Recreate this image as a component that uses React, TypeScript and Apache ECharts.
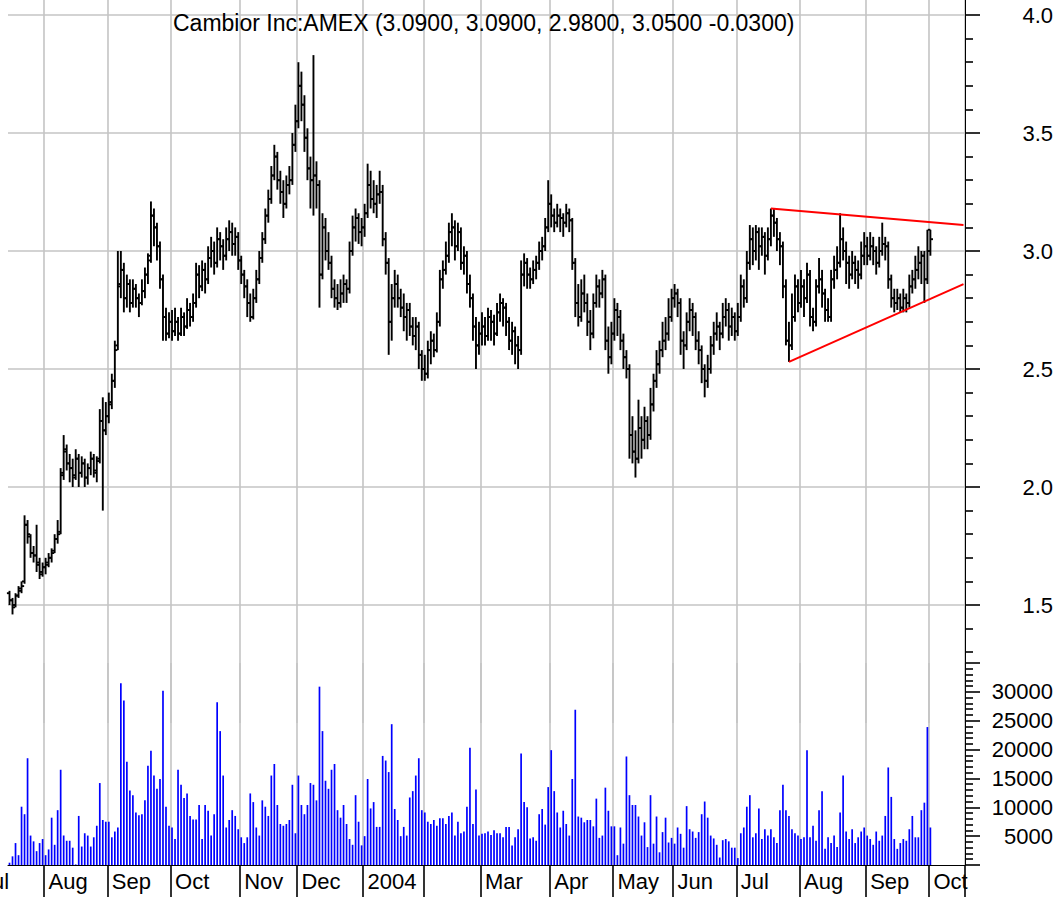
import React, { useEffect, useRef } from 'react';
import * as echarts from 'echarts';

const FONT = '"Liberation Sans", Arial, Helvetica, sans-serif';
const TITLE = 'Cambior Inc:AMEX (3.0900, 3.0900, 2.9800, 3.0500 -0.0300)';
const MONTHS = ['Jan', 'Feb', 'Mar', 'Apr', 'May', 'Jun', 'Jul', 'Aug', 'Sep', 'Oct', 'Nov', 'Dec'];
const FIRST_DAY = [2003, 6, 16];
const HOLIDAYS = ['2003-09-01', '2003-11-27', '2003-12-25', '2004-01-01', '2004-01-19', '2004-02-16',
  '2004-04-09', '2004-05-31', '2004-06-11', '2004-07-05', '2004-09-06'];
const AXIS_SLOTS = 318;
const PRICE_TICKS = ['1.5', '2.0', '2.5', '3.0', '3.5', '4.0'];
const VOLUME_TICKS = [5000, 10000, 15000, 20000, 25000, 30000];

const opens = [
  1.55,1.52,1.50,1.54,1.57,1.60,1.84,1.79,1.72,1.71,1.67,1.63,
  1.66,1.67,1.70,1.73,1.78,1.81,2.06,2.16,2.10,2.08,2.04,2.12,2.06,2.10,2.04,2.08,2.12,2.06,2.12,2.28,2.24,
  2.30,2.36,2.45,2.60,2.86,2.92,2.80,2.86,2.78,2.84,2.80,2.78,2.83,2.90,2.98,3.15,3.10,3.02,2.88,2.72,2.65,
  2.70,2.66,2.70,2.65,2.72,2.68,2.75,2.72,2.78,2.90,2.85,2.92,2.88,2.97,3.00,2.95,3.05,3.02,2.98,3.05,3.08,3.03,3.06,
  2.96,2.90,2.85,2.78,2.72,2.80,2.88,2.97,3.05,3.15,3.22,3.32,3.40,3.30,3.25,3.20,3.28,3.30,3.45,
  3.55,3.70,3.62,3.48,3.35,3.30,3.32,3.28,2.90,3.10,3.00,2.95,2.84,2.80,2.78,2.82,2.86,2.84,3.00,3.10,3.14,3.08,
  3.10,3.16,3.28,3.22,3.20,3.24,3.25,3.05,2.95,2.70,2.80,2.86,2.80,2.76,2.72,2.75,2.68,2.64,2.68,2.56,
  2.50,2.48,2.58,2.62,2.58,2.70,2.88,2.92,2.98,3.08,3.10,3.02,3.08,2.95,2.98,2.86,2.80,2.68,2.60,
  2.65,2.68,2.64,2.72,2.70,2.65,2.74,2.78,2.76,2.70,2.62,2.66,2.60,2.58,2.90,2.95,2.90,2.88,2.92,2.95,3.00,3.02,3.10,
  3.20,3.15,3.12,3.15,3.14,3.12,3.16,3.13,2.95,2.78,2.72,2.82,2.78,2.70,2.65,2.78,2.85,2.82,2.88,2.62,2.55,
  2.65,2.75,2.72,2.62,2.55,2.50,2.22,2.15,2.12,2.25,2.20,2.28,2.22,2.35,2.45,2.52,2.58,2.62,2.65,2.72,
  2.80,2.82,2.78,2.62,2.60,2.70,2.75,2.72,2.62,2.58,2.50,2.45,2.50,2.60,2.65,2.68,2.65,2.72,2.75,2.68,2.72,
  2.66,2.72,2.85,2.80,2.95,3.05,3.00,3.08,3.02,3.06,2.98,3.05,3.15,3.12,3.05,3.02,2.85,2.62,2.60,2.72,2.85,
  2.78,2.85,2.80,2.90,2.72,2.70,2.85,2.88,2.82,2.75,2.72,2.88,2.92,2.95,3.05,3.00,2.95,2.90,2.95,2.92,2.90,2.98,
  3.02,2.98,3.02,3.00,2.95,3.00,3.03,3.02,2.88,2.80,2.78,2.80,2.76,2.80,2.78,2.85,2.88,2.92,2.95,2.98,2.88,3.09,
];

const highs = [
  1.56,1.53,1.55,1.58,1.60,1.88,1.86,1.80,1.75,1.84,1.70,1.68,
  1.70,1.72,1.74,1.80,1.86,2.08,2.22,2.18,2.14,2.12,2.16,2.14,2.13,2.12,2.10,2.15,2.14,2.13,2.33,2.38,2.36,
  2.40,2.48,2.62,3.00,3.00,2.95,2.90,2.88,2.88,2.86,2.82,2.88,2.93,2.99,3.21,3.18,3.12,3.04,2.90,2.76,2.74,
  2.75,2.76,2.72,2.76,2.74,2.80,2.78,2.82,2.95,2.94,2.96,2.95,3.02,3.06,3.04,3.10,3.08,3.05,3.10,3.13,3.12,3.10,3.08,
  2.98,2.92,2.88,2.82,2.84,2.92,3.00,3.08,3.18,3.26,3.36,3.45,3.42,3.34,3.30,3.32,3.36,3.50,3.62,
  3.80,3.76,3.66,3.52,3.40,3.83,3.38,3.30,3.16,3.14,3.08,2.98,2.88,2.86,2.88,2.90,2.88,3.04,3.15,3.18,3.16,3.14,
  3.20,3.37,3.34,3.30,3.28,3.34,3.28,3.08,2.97,2.86,2.92,2.90,2.84,2.82,2.78,2.78,2.72,2.72,2.70,2.58,
  2.56,2.62,2.66,2.65,2.74,2.92,2.96,3.04,3.12,3.16,3.13,3.12,3.10,3.02,3.00,2.90,2.82,2.72,2.70,
  2.74,2.72,2.76,2.75,2.73,2.78,2.82,2.80,2.78,2.72,2.70,2.68,2.64,2.96,2.99,2.97,2.93,2.96,2.98,3.04,3.06,3.14,3.30,
  3.24,3.18,3.20,3.18,3.16,3.20,3.18,3.14,2.97,2.86,2.88,2.90,2.82,2.75,2.82,2.90,2.88,2.92,2.90,2.68,2.70,
  2.80,2.78,2.75,2.65,2.58,2.52,2.30,2.24,2.37,2.30,2.34,2.30,2.42,2.48,2.58,2.62,2.70,2.72,2.80,2.84,
  2.86,2.84,2.80,2.66,2.74,2.80,2.78,2.74,2.66,2.60,2.52,2.56,2.64,2.70,2.74,2.70,2.78,2.80,2.78,2.76,2.74,
  2.78,2.90,2.88,3.00,3.11,3.10,3.11,3.10,3.10,3.08,3.10,3.18,3.18,3.14,3.08,3.04,2.88,2.70,2.82,2.90,2.88,
  2.92,2.88,2.95,2.92,2.76,2.88,2.97,2.92,2.84,2.80,2.92,2.98,3.02,3.16,3.10,3.04,2.98,3.00,2.98,2.96,3.04,3.08,
  3.06,3.08,3.06,3.02,3.06,3.12,3.06,3.04,2.90,2.84,2.84,2.82,2.84,2.82,2.90,2.92,2.98,3.02,3.00,3.00,3.09,3.09,
];

const lows = [
  1.50,1.46,1.49,1.53,1.55,1.59,1.76,1.70,1.68,1.64,1.61,1.62,
  1.63,1.66,1.68,1.72,1.76,1.80,2.03,2.07,2.02,2.00,2.03,2.00,2.04,2.00,2.01,2.05,2.04,2.02,2.10,1.90,2.22,
  2.27,2.33,2.42,2.58,2.80,2.74,2.76,2.74,2.76,2.76,2.72,2.77,2.80,2.86,2.95,3.02,2.96,2.84,2.62,2.62,2.63,
  2.62,2.64,2.62,2.64,2.64,2.67,2.68,2.70,2.76,2.80,2.83,2.82,2.86,2.93,2.90,2.93,2.96,2.92,2.96,3.00,2.98,2.98,2.92,
  2.86,2.80,2.72,2.70,2.71,2.78,2.86,2.95,3.03,3.12,3.20,3.30,3.26,3.20,3.14,3.18,3.24,3.28,3.42,
  3.52,3.55,3.42,3.30,3.18,3.15,3.18,2.76,2.88,2.96,2.92,2.80,2.76,2.75,2.76,2.78,2.78,2.82,2.98,3.04,3.03,3.02,
  3.06,3.14,3.18,3.16,3.14,3.20,3.02,2.90,2.56,2.62,2.76,2.76,2.72,2.66,2.62,2.64,2.60,2.58,2.50,2.45,
  2.45,2.46,2.52,2.55,2.57,2.68,2.84,2.90,2.95,3.02,2.96,3.00,2.92,2.90,2.82,2.76,2.62,2.50,2.56,
  2.60,2.60,2.62,2.62,2.60,2.64,2.70,2.68,2.64,2.58,2.56,2.52,2.50,2.56,2.85,2.84,2.84,2.86,2.88,2.92,2.96,3.00,3.08,
  3.10,3.08,3.10,3.08,3.06,3.10,3.08,2.92,2.72,2.68,2.70,2.74,2.64,2.58,2.63,2.76,2.76,2.80,2.58,2.48,2.52,
  2.62,2.64,2.58,2.50,2.46,2.12,2.10,2.04,2.10,2.12,2.16,2.16,2.20,2.32,2.42,2.48,2.55,2.58,2.62,2.70,
  2.76,2.72,2.56,2.50,2.58,2.66,2.64,2.58,2.52,2.44,2.38,2.42,2.48,2.56,2.62,2.58,2.63,2.68,2.62,2.64,2.62,
  2.64,2.70,2.76,2.78,2.92,2.94,2.96,2.92,2.98,2.90,2.96,3.02,3.06,3.00,2.94,2.80,2.60,2.53,2.58,2.70,2.74,
  2.76,2.72,2.78,2.68,2.66,2.68,2.82,2.76,2.70,2.70,2.70,2.84,2.88,2.93,2.96,2.86,2.84,2.88,2.86,2.84,2.88,2.94,
  2.94,2.96,2.94,2.90,2.93,2.98,2.96,2.84,2.76,2.74,2.75,2.74,2.74,2.74,2.76,2.82,2.84,2.88,2.86,2.78,2.86,2.98,
];

const closes = [
  1.52,1.49,1.54,1.56,1.58,1.84,1.80,1.72,1.71,1.68,1.64,1.66,
  1.68,1.70,1.72,1.78,1.80,2.05,2.15,2.10,2.08,2.05,2.12,2.06,2.10,2.04,2.08,2.12,2.07,2.11,2.28,2.24,2.30,
  2.35,2.45,2.58,2.85,2.92,2.80,2.86,2.78,2.84,2.80,2.78,2.83,2.90,2.96,3.15,3.10,3.02,2.88,2.72,2.65,2.70,
  2.66,2.70,2.65,2.72,2.68,2.75,2.72,2.78,2.90,2.85,2.92,2.88,2.97,3.00,2.95,3.05,3.02,2.98,3.05,3.08,3.03,3.06,2.96,
  2.90,2.85,2.78,2.72,2.80,2.88,2.97,3.05,3.15,3.22,3.32,3.40,3.30,3.25,3.20,3.28,3.30,3.45,3.55,
  3.70,3.62,3.48,3.35,3.30,3.32,3.28,2.90,3.10,3.00,2.95,2.84,2.80,2.78,2.82,2.86,2.84,3.00,3.10,3.14,3.08,3.10,
  3.16,3.28,3.22,3.20,3.24,3.25,3.05,2.95,2.70,2.80,2.86,2.80,2.76,2.72,2.75,2.68,2.64,2.68,2.56,2.50,
  2.48,2.58,2.62,2.58,2.70,2.88,2.92,2.98,3.08,3.10,3.02,3.08,2.95,2.98,2.86,2.80,2.68,2.60,2.65,
  2.68,2.64,2.72,2.70,2.65,2.74,2.78,2.76,2.70,2.62,2.66,2.60,2.58,2.90,2.95,2.90,2.88,2.92,2.95,3.00,3.02,3.10,3.20,
  3.15,3.12,3.15,3.14,3.12,3.16,3.13,2.95,2.78,2.72,2.82,2.78,2.70,2.65,2.78,2.85,2.82,2.88,2.62,2.55,2.65,
  2.75,2.72,2.62,2.55,2.50,2.22,2.15,2.12,2.25,2.20,2.28,2.22,2.35,2.45,2.52,2.58,2.62,2.65,2.72,2.80,
  2.82,2.78,2.62,2.60,2.70,2.75,2.72,2.62,2.58,2.50,2.45,2.50,2.60,2.65,2.68,2.65,2.72,2.75,2.68,2.72,2.66,
  2.72,2.85,2.80,2.95,3.05,3.00,3.08,3.02,3.06,2.98,3.05,3.15,3.12,3.05,3.02,2.85,2.62,2.60,2.72,2.85,2.78,
  2.85,2.80,2.90,2.72,2.70,2.85,2.88,2.82,2.75,2.72,2.88,2.92,2.95,3.05,3.00,2.95,2.90,2.95,2.92,2.90,2.98,3.02,
  2.98,3.02,3.00,2.95,3.00,3.03,3.02,2.88,2.80,2.78,2.80,2.76,2.80,2.78,2.85,2.88,2.92,2.95,2.98,2.88,3.00,3.05,
];

const volumes = [
  400,1500,3800,1700,10100,8800,18500,5100,4100,2400,3800,4500,
  1700,2700,8200,3500,9500,16500,5100,4200,4200,3000,100,8500,3200,5500,5100,3200,4800,6800,14200,7800,7500,
  7500,4800,5800,6500,31500,28500,17900,12900,12100,9100,8600,8800,11200,17200,19800,15500,13200,14900,30200,10100,6800,
  6500,4500,16500,13900,11600,12400,8500,7900,7900,10400,4500,10400,9400,5100,8800,28200,23200,15500,6500,7800,9500,8500,6200,
  4800,3800,4800,12400,10900,6500,5100,11200,10100,8500,15500,17500,10400,7100,6800,7100,7800,13900,5500,
  15500,10400,8800,10400,14200,13900,11200,30900,23200,14600,13200,16500,17500,9500,8200,10400,7100,4500,3500,12100,7500,3400,
  5000,14900,9800,10900,6600,6600,18900,18100,16100,24400,9700,7800,5000,6600,5100,11700,12800,15500,18500,9500,
  9100,7500,7100,7800,6800,8100,8100,7100,8500,9100,5100,7500,5500,5800,10100,20300,7100,13100,5100,
  5400,5500,5800,5200,6000,5500,5500,4800,6600,6600,3400,4800,6200,19300,10900,10000,4600,4800,4200,8800,9700,7000,13500,
  19900,12800,9100,6500,9400,7100,5100,14900,26900,8400,8200,7400,7800,7800,6700,11500,4700,5100,13400,9400,6700,
  6700,1700,6500,3700,18800,12100,10400,10400,8400,5100,7400,3100,12100,3700,8400,2200,5700,8200,3900,4700,
  3700,6500,5400,3000,10200,6200,5800,4700,5700,8800,11000,8200,5100,4600,3500,1300,4300,4500,4100,3000,3000,
  1200,5500,6500,10100,12100,4800,5500,9800,4500,6200,5100,6200,4800,3800,9500,13900,9500,8500,6200,5500,5100,
  4500,4800,19900,4800,6800,4200,9500,12800,2800,4800,3800,5100,3100,9100,15500,5800,4500,6200,3800,4800,5800,6500,
  5100,4500,3500,5800,4200,5100,8500,16900,11800,4500,2800,3800,4500,4200,6200,8500,4800,4800,9500,10800,23900,6500,
];

// Trend lines drawn on the chart: [trading-day index, price]
const resistanceLine = [[253, 3.18], [317, 3.11]];
const supportLine = [[259, 2.53], [317, 2.86]];

function buildTradingDays(): string[] {
  const out: string[] = [];
  let t = Date.UTC(FIRST_DAY[0], FIRST_DAY[1], FIRST_DAY[2]);
  while (out.length < AXIS_SLOTS) {
    const d = new Date(t);
    const wd = d.getUTCDay();
    const s = d.toISOString().slice(0, 10);
    if (wd !== 0 && wd !== 6 && HOLIDAYS.indexOf(s) < 0) out.push(s);
    t += 86400000;
  }
  return out;
}

export default function App() {
  const ref = useRef<HTMLDivElement>(null);

  useEffect(() => {
    if (!ref.current) return;
    const chart = echarts.init(ref.current, undefined, { renderer: 'svg' });
    const dates = buildTradingDays();
    const isMonthStart = (i: number) => i > 0 && dates[i].slice(0, 7) !== dates[i - 1].slice(0, 7);
    const showLabel = (i: number) => isMonthStart(i) && dates[i].slice(5, 7) !== '02';
    const monthLabel = (v: string) => {
      const m = parseInt(v.slice(5, 7), 10);
      return m === 1 ? v.slice(0, 4) : MONTHS[m - 1];
    };
    const grey = '#c4c4c4';
    const ohlc = opens.map((o, i) => [i, o, highs[i], lows[i], closes[i]]);
    const priceSplitColors = ['rgba(0,0,0,0)'].concat(PRICE_TICKS.map(() => grey)).concat(['rgba(0,0,0,0)']);

    chart.setOption({
      animation: false,
      backgroundColor: '#ffffff',
      textStyle: { fontFamily: FONT },
      title: {
        text: TITLE,
        left: 173,
        top: 11,
        padding: 0,
        textStyle: { fontSize: 23, fontWeight: 'normal', color: '#000', fontFamily: FONT },
      },
      grid: [
        { left: 8, right: 95, top: -103, height: 826, containLabel: false, outerBoundsMode: 'none' },
        { left: 8, right: 95, top: 663, height: 202, containLabel: false, outerBoundsMode: 'none' },
      ],
      xAxis: [
        {
          type: 'category', gridIndex: 0, data: dates, boundaryGap: true,
          axisLine: { show: false }, axisTick: { show: false }, axisLabel: { show: false },
          splitLine: { show: true, interval: (i: number) => isMonthStart(i), lineStyle: { color: grey, width: 1.6 } },
        },
        {
          type: 'category', gridIndex: 1, data: dates, boundaryGap: true,
          axisLine: { show: true, lineStyle: { color: '#000', width: 1 } },
          axisTick: { show: true, interval: (i: number) => isMonthStart(i), length: 34, lineStyle: { color: '#000', width: 1.6 } },
          axisLabel: {
            show: true, interval: (i: number) => showLabel(i), formatter: monthLabel,
            align: 'left', padding: [0, 0, 0, 3], margin: 5,
            fontSize: 22, color: '#000', fontFamily: FONT,
          },
          splitLine: { show: true, interval: (i: number) => isMonthStart(i), lineStyle: { color: grey, width: 1.6 } },
        },
      ],
      yAxis: [
        {
          type: 'value', gridIndex: 0, position: 'right', min: 1.0, max: 4.5, interval: 0.5, z: 1,
          axisLine: { show: true, lineStyle: { color: '#000', width: 1 } },
          axisTick: { show: true, length: 15, lineStyle: { color: '#000', width: 1.6 } },
          minorTick: { show: true, splitNumber: 5, length: 8, lineStyle: { color: '#000', width: 1.6 } },
          axisLabel: {
            formatter: (v: number) => (PRICE_TICKS.indexOf(v.toFixed(1)) >= 0 ? v.toFixed(1) : ''),
            fontSize: 22, color: '#000', align: 'right', margin: 88, fontFamily: FONT,
          },
          splitLine: { show: true, lineStyle: { color: priceSplitColors, width: 1.6 } },
        },
        {
          type: 'value', gridIndex: 1, position: 'right', min: 0, max: 35000, interval: 5000, z: 3,
          axisLine: { show: true, lineStyle: { color: '#000', width: 1 } },
          axisTick: { show: true, length: 15, lineStyle: { color: '#000', width: 1.6 } },
          minorTick: { show: true, splitNumber: 5, length: 8, lineStyle: { color: '#000', width: 1.6 } },
          axisLabel: {
            formatter: (v: number) => (VOLUME_TICKS.indexOf(v) >= 0 ? String(v) : ''),
            fontSize: 22, color: '#000', align: 'right', margin: 88, fontFamily: FONT,
          },
          splitLine: { show: false },
        },
      ],
      graphic: [
        { type: 'rect', z: 2, shape: { x: 966, y: 666, width: 22, height: 62 }, style: { fill: '#ffffff' } },
        {
          type: 'text', z: 2, x: -19, y: 870,
          style: { text: 'Jul', fill: '#000', font: `22px ${FONT}`, verticalAlign: 'top', textVerticalAlign: 'top' },
        },
      ],
      series: [
        {
          type: 'custom', name: 'Price', xAxisIndex: 0, yAxisIndex: 0, z: 2,
          data: ohlc,
          encode: { x: 0, y: [1, 2, 3, 4] },
          renderItem: (params: any, api: any) => {
            const i = api.value(0);
            const pO = api.coord([i, api.value(1)]);
            const pH = api.coord([i, api.value(2)]);
            const pL = api.coord([i, api.value(3)]);
            const pC = api.coord([i, api.value(4)]);
            const st = { stroke: '#000', lineWidth: 1.9 };
            return {
              type: 'group',
              children: [
                { type: 'line', shape: { x1: pH[0], y1: pH[1], x2: pL[0], y2: pL[1] }, style: st },
                { type: 'line', shape: { x1: pO[0] - 2.6, y1: pO[1], x2: pO[0], y2: pO[1] }, style: st },
                { type: 'line', shape: { x1: pC[0], y1: pC[1], x2: pC[0] + 2.6, y2: pC[1] }, style: st },
              ],
            };
          },
        },
        {
          type: 'line', name: 'Resistance', xAxisIndex: 0, yAxisIndex: 0, z: 3,
          data: resistanceLine, symbol: 'none', silent: true,
          lineStyle: { color: '#ff0000', width: 2 },
        },
        {
          type: 'line', name: 'Support', xAxisIndex: 0, yAxisIndex: 0, z: 3,
          data: supportLine, symbol: 'none', silent: true,
          lineStyle: { color: '#ff0000', width: 2 },
        },
        {
          type: 'bar', name: 'Volume', xAxisIndex: 1, yAxisIndex: 1, z: 2,
          data: volumes, barWidth: 1.7, itemStyle: { color: '#0000ff' },
        },
      ],
    });
    return () => chart.dispose();
  }, []);

  return (
    <div
      ref={ref}
      style={{ position: 'fixed', left: 0, top: 0, width: 1060, height: 897, background: '#fff' }}
    />
  );
}
